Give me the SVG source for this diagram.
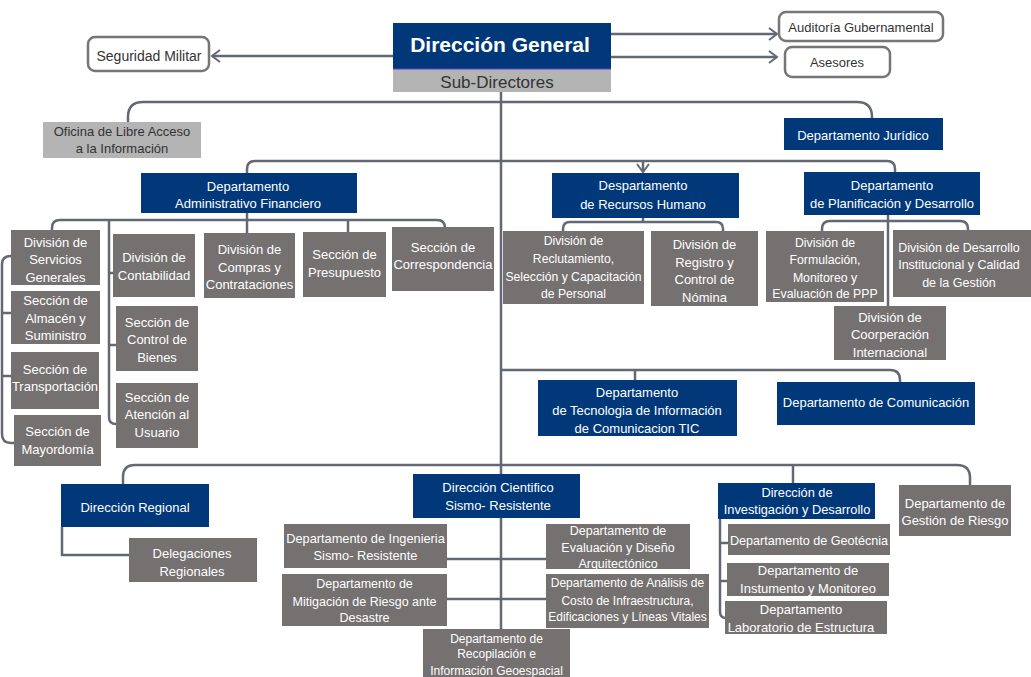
<svg xmlns="http://www.w3.org/2000/svg" width="1031" height="677" viewBox="0 0 1031 677" font-size="13">
<style>
.bb{fill:#00387A}
.bg{fill:#767171}
.bl{fill:#B4B4B4}
.bw{fill:#fff;stroke:#767676;stroke-width:2.5}
text{font-family:"Liberation Sans",Arial,sans-serif;text-anchor:middle}
.tw{fill:#fff}
.td{fill:#333}
.c path{fill:none;stroke:#646873;stroke-width:2.5}
</style>
<defs>
<marker id="ah" markerUnits="userSpaceOnUse" markerWidth="12" markerHeight="14" refX="9" refY="7" orient="auto">
<path d="M1,1 L9,7 L1,13" fill="none" stroke="#646873" stroke-width="2"/>
</marker>
</defs>
<rect width="1031" height="677" fill="#fff"/>
<g class="c" id="connectors">
<path d="M393,56 H212" marker-end="url(#ah)"/>
<path d="M611,34 H777" marker-end="url(#ah)"/>
<path d="M611,57 H777" marker-end="url(#ah)"/>
<path d="M643,161 V172" marker-end="url(#ah)"/>
<path d="M501,92 V629"/>
<path d="M128,122 V117 Q128,102 143,102 H857 Q872,102 872,117 V118"/>
<path d="M247,173 V169 Q247,161 255,161 H887 Q895,161 895,169 V172"/>
<path d="M247,213 V233"/>
<path d="M52,230 V228 Q52,220 60,220 H437 Q445,220 445,228"/>
<path d="M348,220 V232"/>
<path d="M109,220 V417 Q109,424 116,424"/>
<path d="M109,273 H113"/>
<path d="M109,345 H116"/>
<path d="M11,256 Q2,256 2,264 V434 Q2,443 11,443 H14"/>
<path d="M2,313 H11"/>
<path d="M2,376 H11"/>
<path d="M643,218 V222"/>
<path d="M563,231 V229 Q563,222 570,222 H716 Q723,222 723,229 V231"/>
<path d="M888,215 V306"/>
<path d="M822,231 V229 Q822,221 830,221 H960 Q968,221 968,229 V230"/>
<path d="M501,370 H890 Q900,370 900,380 V382"/>
<path d="M635,370 V380"/>
<path d="M123,484 V477 Q123,465 135,465 H957 Q970,465 970,478 V485"/>
<path d="M793,465 V483"/>
<path d="M62,527 V555 H129"/>
<path d="M447,559 H546"/>
<path d="M447,599 H546"/>
<path d="M720,519 V612 Q720,618 726,618"/>
<path d="M720,543 H728"/>
<path d="M720,581 H727"/>
</g>
<g id="direccion-general"><rect class="bb" x="393" y="23" width="218" height="46"/><line x1="393" y1="69" x2="611" y2="69" stroke="#4A3BB5" stroke-width="1.5"/><text class="tw" x="500" y="51.5" font-size="21" font-weight="bold">Dirección General</text></g>
<g id="sub-directores"><rect class="bl" x="393" y="69.8" width="218" height="22.2"/><text class="td" x="497" y="88" font-size="17">Sub-Directores</text></g>
<g id="seguridad-militar"><rect class="bw" x="88" y="37" width="121" height="34" rx="7"/><text class="td" x="149" y="61" font-size="14">Seguridad Militar</text></g>
<g id="auditoria"><rect class="bw" x="779" y="12" width="164" height="29" rx="7"/><text class="td" x="861" y="31.5">Auditoría Gubernamental</text></g>
<g id="asesores"><rect class="bw" x="785" y="47" width="105" height="30" rx="7"/><text class="td" x="837" y="67">Asesores</text></g>
<g id="oficina-libre-acceso"><rect class="bl" x="43" y="122" width="158" height="36"/><text class="td"><tspan x="122" y="135.5">Oficina de Libre Acceso</tspan><tspan x="122" y="152.5">a la Información</tspan></text></g>
<g id="juridico"><rect class="bb" x="784" y="118" width="159" height="32"/><text class="tw" x="863" y="139.5">Departamento Jurídico</text></g>
<g id="admin-financiero"><rect class="bb" x="141" y="173" width="216" height="40"/><text class="tw"><tspan x="248" y="190.5">Departamento</tspan><tspan x="248" y="207.5">Administrativo Financiero</tspan></text></g>
<g id="recursos-humano"><rect class="bb" x="552" y="173" width="187" height="45"/><text class="tw"><tspan x="643" y="189.5">Despartamento</tspan><tspan x="643" y="208.5">de Recursos Humano</tspan></text></g>
<g id="planificacion"><rect class="bb" x="804" y="172" width="176" height="43"/><text class="tw"><tspan x="892" y="189.5">Departamento</tspan><tspan x="892" y="207.5">de Planificación y Desarrollo</tspan></text></g>
<g id="servicios-generales"><rect class="bg" x="11" y="230" width="89" height="55"/><text class="tw"><tspan x="55.5" y="246.5">División de</tspan><tspan x="55.5" y="263.5">Servicios</tspan><tspan x="55.5" y="281.5">Generales</tspan></text></g>
<g id="almacen"><rect class="bg" x="11" y="291" width="89" height="53"/><text class="tw"><tspan x="55.5" y="304.5">Sección de</tspan><tspan x="55.5" y="322.5">Almacén y</tspan><tspan x="55.5" y="339.5">Suministro</tspan></text></g>
<g id="transportacion"><rect class="bg" x="11" y="352" width="88" height="57"/><text class="tw"><tspan x="55" y="373.5">Sección de</tspan><tspan x="55" y="390.5">Transportación</tspan></text></g>
<g id="mayordomia"><rect class="bg" x="14" y="415" width="87" height="51"/><text class="tw"><tspan x="57.5" y="435.5">Sección de</tspan><tspan x="57.5" y="453.5">Mayordomía</tspan></text></g>
<g id="contabilidad"><rect class="bg" x="113" y="234" width="82" height="63"/><text class="tw"><tspan x="154" y="261.5">División de</tspan><tspan x="154" y="279.5">Contabilidad</tspan></text></g>
<g id="control-bienes"><rect class="bg" x="116" y="306" width="82" height="65"/><text class="tw"><tspan x="157" y="326.5">Sección de</tspan><tspan x="157" y="343.5">Control de</tspan><tspan x="157" y="361.5">Bienes</tspan></text></g>
<g id="atencion-usuario"><rect class="bg" x="116" y="383" width="82" height="65"/><text class="tw"><tspan x="157" y="401.5">Sección de</tspan><tspan x="157" y="418.5">Atención al</tspan><tspan x="157" y="436.5">Usuario</tspan></text></g>
<g id="compras"><rect class="bg" x="204" y="233" width="91" height="65"/><text class="tw"><tspan x="249.5" y="253.5">División de</tspan><tspan x="249.5" y="271.5">Compras y</tspan><tspan x="249.5" y="288.5">Contrataciones</tspan></text></g>
<g id="presupuesto"><rect class="bg" x="303" y="232" width="83" height="65"/><text class="tw"><tspan x="344.5" y="258.5">Sección de</tspan><tspan x="344.5" y="276.5">Presupuesto</tspan></text></g>
<g id="correspondencia"><rect class="bg" x="392" y="227" width="102" height="64"/><text class="tw"><tspan x="443" y="251.5">Sección de</tspan><tspan x="443" y="268.5">Correspondencia</tspan></text></g>
<g id="reclutamiento"><rect class="bg" x="503" y="231" width="141" height="73"/><text class="tw" font-size="12.2"><tspan x="573.5" y="244.5">División de</tspan><tspan x="573.5" y="262.5">Reclutamiento,</tspan><tspan x="573.5" y="280.5">Selección y Capacitación</tspan><tspan x="573.5" y="297.5">de Personal</tspan></text></g>
<g id="registro-nomina"><rect class="bg" x="651" y="231" width="107" height="75"/><text class="tw"><tspan x="704.5" y="248.5">División de</tspan><tspan x="704.5" y="266.5">Registro y</tspan><tspan x="704.5" y="283.5">Control de</tspan><tspan x="704.5" y="301.5">Nómina</tspan></text></g>
<g id="formulacion"><rect class="bg" x="766" y="231" width="118" height="71"/><text class="tw" font-size="12.3"><tspan x="825" y="246.5">División de</tspan><tspan x="825" y="263.5">Formulación,</tspan><tspan x="825" y="281.5">Monitoreo y</tspan><tspan x="825" y="297.5">Evaluación de PPP</tspan></text></g>
<g id="desarrollo-institucional"><rect class="bg" x="893" y="230" width="138" height="67"/><text class="tw" font-size="12.5"><tspan x="959" y="251.5">División de Desarrollo</tspan><tspan x="959" y="268.5">Institucional y Calidad</tspan><tspan x="959" y="286.5">de la Gestión</tspan></text></g>
<g id="coorperacion"><rect class="bg" x="834" y="306" width="112" height="54"/><text class="tw"><tspan x="890" y="321.5">División de</tspan><tspan x="890" y="338.5">Coorperación</tspan><tspan x="890" y="356.5">Internacional</tspan></text></g>
<g id="tic"><rect class="bb" x="538" y="380" width="199" height="56"/><text class="tw"><tspan x="637" y="396.5">Departamento</tspan><tspan x="637" y="414.5">de Tecnologia de Información</tspan><tspan x="637" y="432.5">de Comunicacion  TIC</tspan></text></g>
<g id="comunicacion"><rect class="bb" x="777" y="382" width="198" height="43"/><text class="tw" x="876" y="406.5">Departamento de Comunicación</text></g>
<g id="direccion-regional"><rect class="bb" x="61" y="484" width="148" height="43"/><text class="tw" x="135" y="511.5">Dirección Regional</text></g>
<g id="delegaciones"><rect class="bg" x="129" y="538" width="128" height="44"/><text class="tw"><tspan x="192" y="557.5">Delegaciones</tspan><tspan x="192" y="575.5">Regionales</tspan></text></g>
<g id="direccion-cientifico"><rect class="bb" x="413" y="474" width="167" height="44"/><text class="tw"><tspan x="498" y="491.5">Dirección Cientifico</tspan><tspan x="498" y="509.5">Sismo- Resistente</tspan></text></g>
<g id="ingenieria"><rect class="bg" x="284" y="524" width="163" height="44"/><text class="tw" font-size="12.8"><tspan x="365.5" y="542.5">Departamento de Ingenieria</tspan><tspan x="365.5" y="559.5">Sismo- Resistente</tspan></text></g>
<g id="mitigacion"><rect class="bg" x="282" y="574" width="165" height="52"/><text class="tw" font-size="12.5"><tspan x="364.5" y="587.5">Departamento de</tspan><tspan x="364.5" y="605.5">Mitigación de Riesgo ante</tspan><tspan x="364.5" y="621.5">Desastre</tspan></text></g>
<g id="recopilacion"><rect class="bg" x="423" y="629" width="147" height="48"/><text class="tw" font-size="12"><tspan x="496.5" y="642.5">Departamento de</tspan><tspan x="496.5" y="657.5">Recopilación e</tspan><tspan x="496.5" y="675">Información Geoespacial</tspan></text></g>
<g id="evaluacion-diseno"><rect class="bg" x="546" y="524" width="144" height="45"/><text class="tw" font-size="12.5"><tspan x="618" y="535">Departamento de</tspan><tspan x="618" y="552">Evaluación y Diseño</tspan><tspan x="618" y="567.5">Arquitectónico</tspan></text></g>
<g id="analisis-costo"><rect class="bg" x="546" y="574" width="163" height="54"/><text class="tw" font-size="12"><tspan x="627.5" y="587">Departamento de Análisis de</tspan><tspan x="627.5" y="605">Costo de Infraestructura,</tspan><tspan x="627.5" y="621">Edificaciones y Líneas Vitales</tspan></text></g>
<g id="investigacion"><rect class="bb" x="718" y="483" width="157" height="36"/><text class="tw" font-size="12.8"><tspan x="797" y="496.5">Dirección de</tspan><tspan x="797" y="513.5">Investigación y Desarrollo</tspan></text></g>
<g id="gestion-riesgo"><rect class="bg" x="899" y="485" width="112" height="51"/><text class="tw"><tspan x="955" y="507.5">Departamento de</tspan><tspan x="955" y="524.5">Gestión de Riesgo</tspan></text></g>
<g id="geotecnia"><rect class="bg" x="728" y="524" width="162" height="31"/><text class="tw" font-size="12.6" x="809" y="544.5">Departamento de Geotécnia</text></g>
<g id="instrumento"><rect class="bg" x="727" y="563" width="162" height="33"/><text class="tw"><tspan x="808" y="574.5">Departamento de</tspan><tspan x="808" y="592.5">Instumento y Monitoreo</tspan></text></g>
<g id="laboratorio"><rect class="bg" x="725" y="601" width="162" height="33"/><text class="tw"><tspan x="801" y="613.5">Departamento</tspan><tspan x="801" y="631.5">Laboratorio de Estructura</tspan></text></g>
</svg>
